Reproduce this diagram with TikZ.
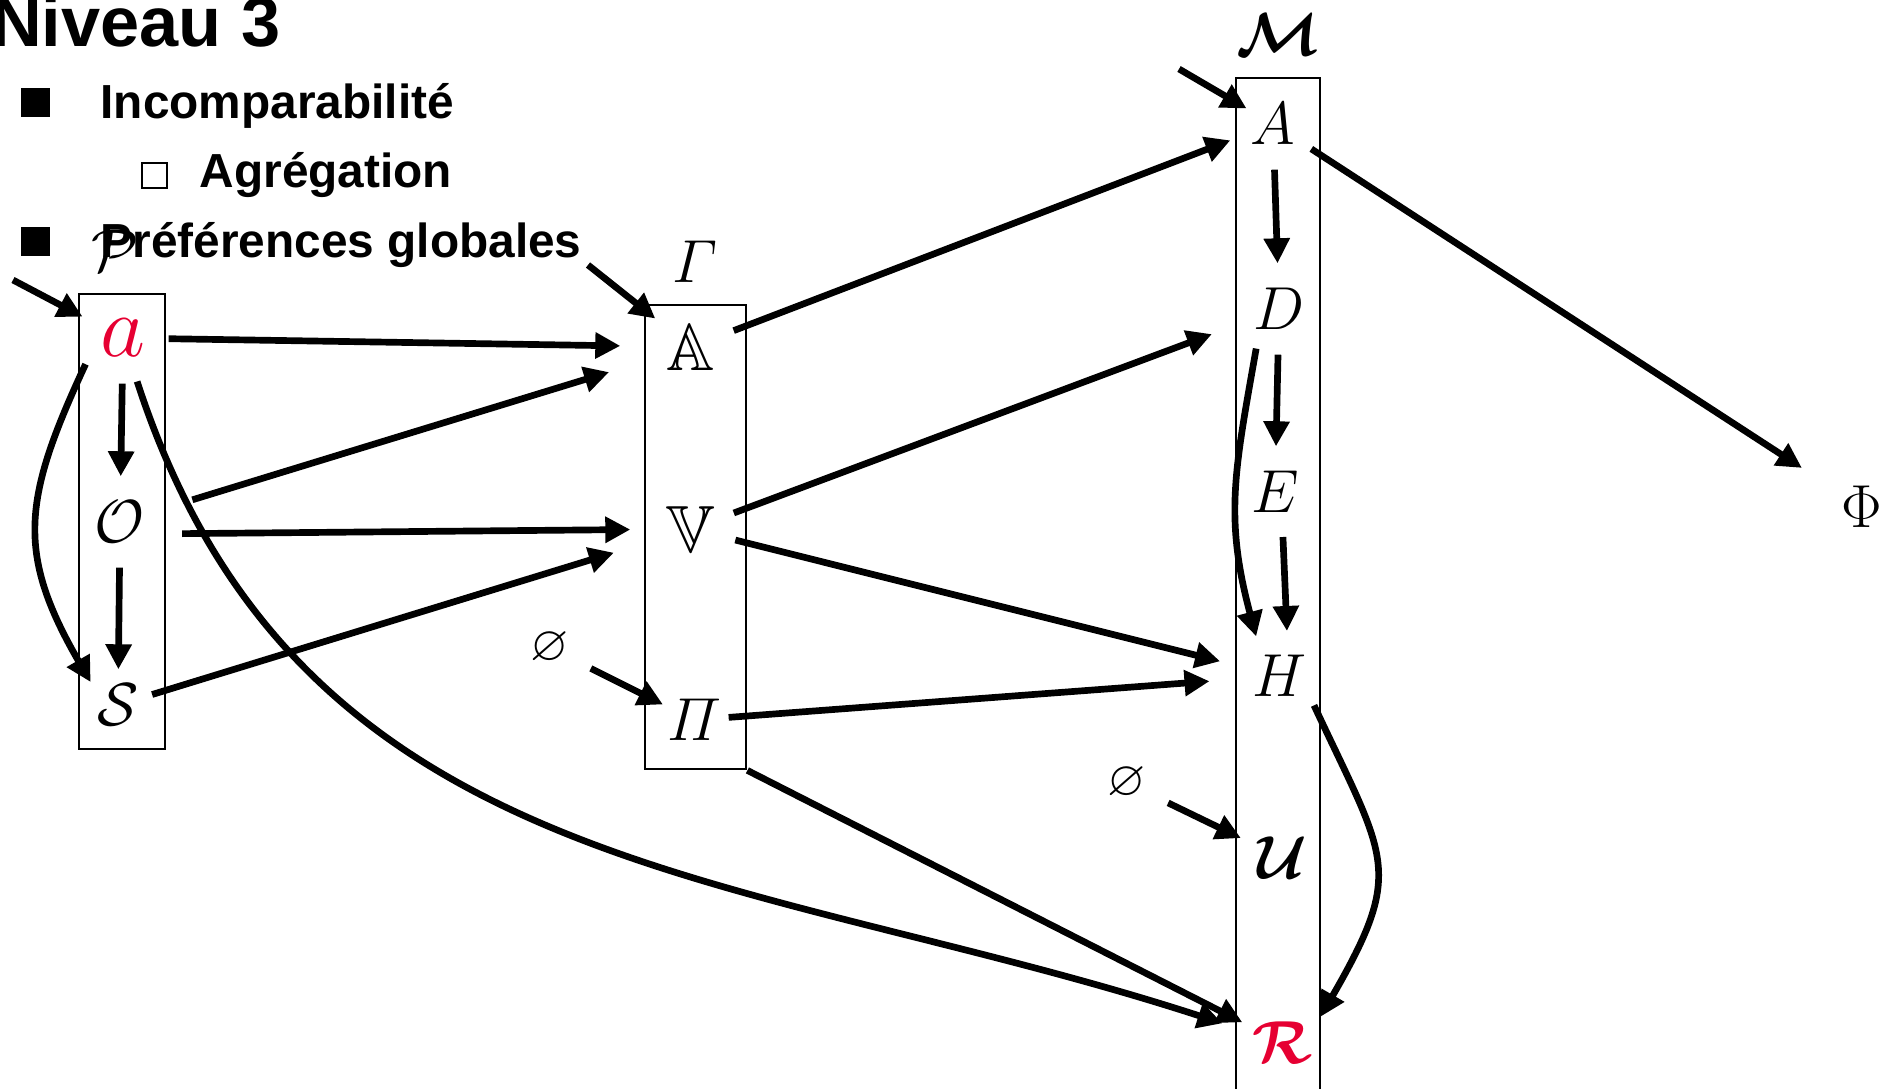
\documentclass[tikz,border=0pt]{standalone}
\usepackage{amsmath,amssymb}
\usepackage{fontspec}
\newfontfamily\slidefont{Liberation Sans}
\usetikzlibrary{arrows.meta, positioning}
\definecolor{symred}{RGB}{230,0,50}

\begin{document}
\begin{tikzpicture}[
        frame/.style={rectangle, draw, line width=0.8pt, inner sep=0pt},
        sym/.style={circle, minimum size=0.9cm, inner sep=0pt, font=\fontsize{19}{19}\selectfont},
        tag/.style={inner sep=0pt, font=\fontsize{19}{19}\selectfont},
        nul/.style={circle, minimum size=0.9cm, inner sep=0pt, font=\fontsize{14}{14}\selectfont},
        entry/.style={anchor=base west, inner sep=0pt, font=\slidefont\bfseries\fontsize{13.6}{16}\selectfont},
        sqfull/.style={fill, inner sep=0pt, minimum size=0.29cm},
        sqopen/.style={draw, line width=0.8pt, inner sep=0pt, minimum size=0.25cm},
        arr/.style={-{Triangle[length=2.5mm, width=2.5mm]}, line width=1.9pt}
    ]
        \useasboundingbox (0,0) rectangle (18.92,-10.89);

        % titre et puces
        \node[anchor=base east, inner sep=0pt, font=\slidefont\bfseries\fontsize{20}{24}\selectfont] (title) at (2.81,-0.47) {Niveau 3};
        \node[sqfull] (b1) at (0.355,-1.025) {};
        \node[entry] (t1) at (1.00,-1.19) {Incomparabilité};
        \node[sqopen] (b2) at (1.545,-1.755) {};
        \node[entry] (t2) at (1.99,-1.88) {Agrégation};
        \node[sqfull] (b3) at (0.355,-2.415) {};
        \node[entry] (t3) at (1.00,-2.58) {Préférences globales};

        % colonne P
        \node[frame, minimum width=0.86cm, minimum height=4.55cm] (Pbox) at (1.22,-5.215) {};
        \node[tag, above=0.2cm of Pbox, xshift=-0.07cm] (P) {$\mathcal{P}$};
        \node[sym, text=symred, font=\fontsize{27}{27}\selectfont] (a) at (1.23,-3.38) {$a$};
        \node[sym] (O) at (1.20,-5.22) {$\mathcal{O}$};
        \node[sym, minimum size=0.7cm] (S) at (1.18,-7.05) {$\mathcal{S}$};

        % colonne Gamma
        \node[frame, minimum width=1.01cm, minimum height=4.64cm] (Gbox) at (6.955,-5.37) {};
        \node[tag, above=0.2cm of Gbox] (Gam) {$\varGamma$};
        \node[sym] (AA) at (6.91,-3.47) {$\mathbb{A}$};
        \node[sym] (VV) at (6.91,-5.29) {$\mathbb{V}$};
        \node[sym, minimum size=0.66cm] (Pi) at (6.94,-7.20) {$\varPi$};
        \node[nul] (e1) at (5.50,-6.48) {$\varnothing$};

        % colonne M
        \node[frame, minimum width=0.84cm, minimum height=10.6cm] (Mbox) at (12.78,-6.08) {};
        \node[tag, above=0.2cm of Mbox] (M) {$\boldsymbol{\mathcal{M}}$};
        \node[sym] (A) at (12.73,-1.24) {$A$};
        \node[sym] (D) at (12.79,-3.09) {$D$};
        \node[sym] (E) at (12.75,-4.92) {$E$};
        \node[sym] (H) at (12.79,-6.76) {$H$};
        \node[sym] (U) at (12.82,-8.58) {$\boldsymbol{\mathcal{U}}$};
        \node[sym, text=symred] (R) at (12.83,-10.43) {$\boldsymbol{\mathcal{R}}$};
        \node[nul] (e2) at (11.27,-7.83) {$\varnothing$};

        \node[sym] (Phi) at (18.62,-5.07) {$\Phi$};

        \coordinate (inP) at (0.13,-2.80);
        \coordinate (inG) at (5.88,-2.65);
        \coordinate (inM) at (11.79,-0.69);

        % fleches
        \draw[arr] (inP) -- (a);
        \draw[arr] (a) -- (O);
        \draw[arr] (O) -- (S);
        \draw[arr] (a.215) to[out=245, in=120, looseness=1.2] (S.140);
        \draw[arr, shorten >=0.25cm] (a) -- (AA);
        \draw[arr, shorten <=0.3cm, shorten >=0.4cm] (O) -- (AA);
        \draw[arr, shorten <=0.18cm, shorten >=0.15cm] (O.-15) -- (VV);
        \draw[arr, shorten >=0.35cm] (S) -- (VV);
        \draw[arr, shorten >=0.18cm] (a) to[out=-72, in=162, looseness=1.05] (R);

        \draw[arr] (inG) -- (AA);
        \draw[arr] (e1) -- (Pi);
        \draw[arr] (AA) -- (A);
        \draw[arr, shorten >=0.26cm] (VV) -- (D);
        \draw[arr, shorten >=0.15cm] (VV) -- (H);
        \draw[arr, shorten >=0.24cm] (Pi) -- (H);
        \draw[arr] (Gbox.south east) -- (R);

        \draw[arr, shorten >=-0.15cm] (inM) -- (A);
        \draw[arr] (A) -- (D);
        \draw[arr] (D) -- (E);
        \draw[arr] (E.-80) -- (H.80);
        \draw[arr] (D.240) to[out=260, in=105, looseness=1.1] (H.120);
        \draw[arr] (H.-40) to[out=-65, in=60, looseness=1.4] (R.35);
        \draw[arr] (e2) -- (U);
        \draw[arr, shorten >=0.26cm] (A) -- (Phi);
\end{tikzpicture}
\end{document}
